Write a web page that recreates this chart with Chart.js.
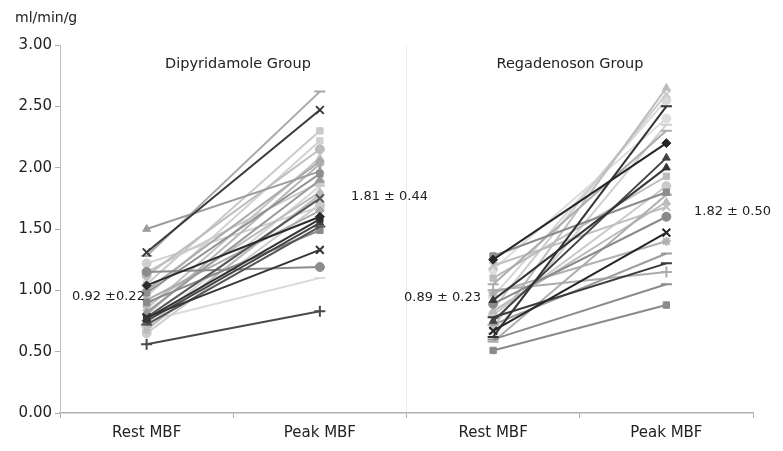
<!DOCTYPE html>
<html>
<head>
<meta charset="utf-8">
<script src="https://cdn.jsdelivr.net/npm/chart.js@4.4.0/dist/chart.umd.min.js"></script>
<style>
  html, body { margin: 0; padding: 0; background: #ffffff; }
  #wrap { width: 783px; height: 451px; }
</style>
</head>
<body>
<div id="wrap"><canvas id="c" width="783" height="451"></canvas></div>
<script>
// ---- data ----
const categories = ['Rest MBF', 'Peak MBF', 'Rest MBF', 'Peak MBF'];
const yTicks = [0, 0.5, 1.0, 1.5, 2.0, 2.5, 3.0];

const dipyRest = [1.28, 1.31, 1.50, 1.05, 0.95, 1.12, 0.85, 0.80, 0.98, 1.15, 0.70, 0.88, 0.78, 1.22,
                  0.92, 1.04, 0.77, 0.75, 0.72, 0.90, 0.78, 1.15, 0.75, 0.56, 0.68, 0.65, 1.00, 0.82];
const dipyPeak = [2.62, 2.47, 1.97, 2.30, 2.22, 2.15, 2.08, 2.03, 1.95, 1.88, 1.85, 1.80, 1.75, 1.68,
                  1.65, 1.60, 1.58, 1.55, 1.52, 1.49, 1.33, 1.19, 1.10, 0.83, 1.78, 1.70, 2.05, 1.90];

const regaRest = [0.70, 0.85, 0.95, 0.62, 1.17, 1.05, 1.25, 0.75, 0.92, 1.10, 0.80, 0.58,
                  1.20, 0.89, 0.67, 0.98, 0.72, 0.78, 1.00, 0.60, 0.51, 1.28, 0.65, 0.83];
const regaPeak = [2.65, 2.60, 2.55, 2.50, 2.40, 2.30, 2.20, 2.08, 2.00, 1.93, 1.85, 1.78,
                  1.68, 1.60, 1.47, 1.40, 1.30, 1.22, 1.15, 1.05, 0.88, 1.80, 2.35, 1.72];

const groupTitles = ['Dipyridamole Group', 'Regadenoson Group'];
const restStats = ['0.92 \u00B10.22', '0.89 \u00B1 0.23'];
const peakStats = ['1.81 \u00B1 0.44', '1.82 \u00B1 0.50'];
const unitLabel = 'ml/min/g';

// ---- styles ----
const dipyColors = ['#a8a8a8', '#3a3a3a', '#9c9c9c', '#c9c9c9', '#d2d2d2', '#bdbdbd', '#c4c4c4', '#b6b6b6',
                    '#8e8e8e', '#cacaca', '#d6d6d6', '#bcbcbc', '#585858', '#d0d0d0', '#acacac', '#2a2a2a',
                    '#333333', '#444444', '#555555', '#8a8a8a', '#353535', '#8c8c8c', '#dcdcdc', '#4a4a4a',
                    '#bbbbbb', '#cccccc', '#aaaaaa', '#9a9a9a'];
const dipyMarkers = ['line', 'crossRot', 'triangle', 'rect', 'rect', 'circle', 'triangle', 'rectRot',
                     'rect', 'circle', 'line', 'triangle', 'crossRot', 'circle', 'rectRot', 'rectRot',
                     'rect', 'triangle', 'line', 'rect', 'crossRot', 'circle', 'line', 'cross',
                     'star', 'circle', 'rectRot', 'triangle'];
const regaColors = ['#bdbdbd', '#cccccc', '#d8d8d8', '#333333', '#dddddd', '#acacac', '#262626', '#444444',
                    '#363636', '#bcbcbc', '#cacaca', '#adadad', '#bfbfbf', '#8a8a8a', '#262626', '#b0b0b0',
                    '#9c9c9c', '#3a3a3a', '#ababab', '#8c8c8c', '#8a8a8a', '#8c8c8c', '#cfcfcf', '#bbbbbb'];
const regaMarkers = ['triangle', 'crossRot', 'circle', 'line', 'circle', 'line', 'rectRot', 'triangle',
                     'triangle', 'rect', 'circle', 'line', 'crossRot', 'circle', 'crossRot', 'star',
                     'line', 'line', 'cross', 'line', 'rect', 'rect', 'line', 'triangle'];

function lum(hex) { return parseInt(hex.slice(1, 3), 16); }

const datasets = [];
function addGroup(rest, peak, colors, markers, left) {
  rest.forEach((r, i) => {
    const p = peak[i];
    const m = markers[i];
    datasets.push({
      data: left ? [r, p, null, null] : [null, null, r, p],
      borderColor: colors[i],
      backgroundColor: colors[i],
      borderWidth: 2,
      pointStyle: m,
      pointRadius: (m === 'crossRot' || m === 'cross' || m === 'line') ? 5.5 : 4.5,
      pointBorderWidth: (m === 'crossRot' || m === 'cross' || m === 'line' || m === 'star') ? 2 : 1,
      pointHoverRadius: 0,
      spanGaps: false,
      tension: 0,
      order: lum(colors[i])
    });
  });
}
addGroup(dipyRest, dipyPeak, dipyColors, dipyMarkers, true);
addGroup(regaRest, regaPeak, regaColors, regaMarkers, false);

const FONT = 'DejaVu Sans';

const textPlugin = {
  id: 'texts',
  afterDraw(chart) {
    const ctx = chart.ctx;
    ctx.save();
    ctx.fillStyle = '#222222';
    ctx.textBaseline = 'middle';
    const put = (t, x, y, size, align) => {
      ctx.font = size + 'px "' + FONT + '"';
      ctx.textAlign = align;
      ctx.fillText(t, x, y);
    };
    put(unitLabel, 15, 18, 14, 'left');
    put(groupTitles[0], 238, 64, 14.5, 'center');
    put(groupTitles[1], 570, 64, 14.5, 'center');
    put(restStats[0], 72, 297, 13, 'left');
    put(peakStats[0], 351, 197, 13, 'left');
    put(restStats[1], 404, 298, 13, 'left');
    put(peakStats[1], 694, 212, 13, 'left');
    ctx.restore();
  }
};

new Chart(document.getElementById('c'), {
  type: 'line',
  data: { labels: categories, datasets },
  plugins: [textPlugin],
  options: {
    responsive: false,
    animation: false,
    devicePixelRatio: 1,
    layout: { padding: { left: 0, right: 30, top: 45, bottom: 0 } },
    plugins: { legend: { display: false }, tooltip: { enabled: false } },
    scales: {
      x: {
        type: 'category',
        offset: true,
        grid: {
          offset: true,
          drawOnChartArea: true,
          color: (c) => (c.index === 2 ? '#ececec' : 'rgba(0,0,0,0)'),
          tickColor: '#b0b0b0',
          tickLength: 5
        },
        border: { color: '#b0b0b0', width: 1.5 },
        ticks: { color: '#222222', font: { family: FONT, size: 15 }, padding: 6, maxRotation: 0 },
        afterFit(s) { s.height = 38; }
      },
      y: {
        min: 0, max: 3,
        afterBuildTicks(s) { s.ticks = yTicks.map(v => ({ value: v })); },
        ticks: {
          color: '#222222', font: { family: FONT, size: 15 }, padding: 3,
          callback: (v) => Number(v).toFixed(2)
        },
        grid: { drawOnChartArea: false, tickColor: '#b0b0b0', tickLength: 5 },
        border: { color: '#c0c0c0', width: 1 },
        afterFit(s) { s.width = 60; }
      }
    }
  }
});
</script>
</body>
</html>
